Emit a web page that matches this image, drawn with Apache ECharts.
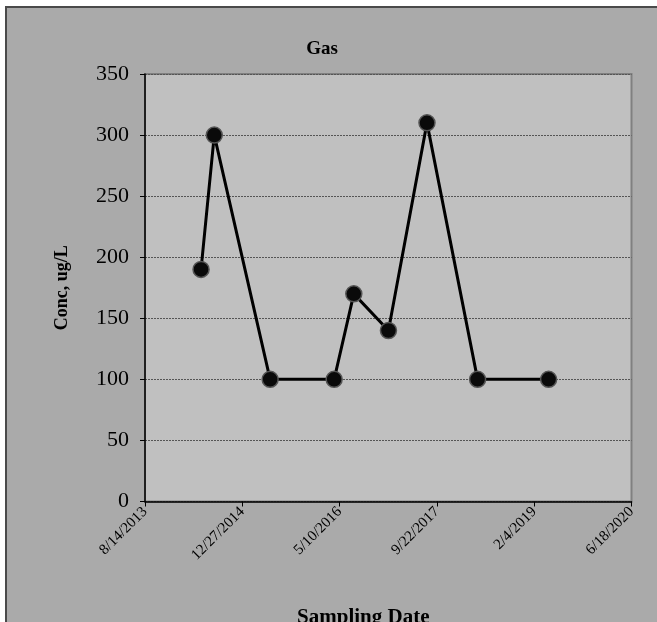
<!DOCTYPE html>
<html>
<head>
<meta charset="utf-8">
<script src="https://cdn.jsdelivr.net/npm/echarts@6/dist/echarts.min.js"></script>
<style>
html,body{margin:0;padding:0;background:#ffffff;width:657px;height:622px;overflow:hidden;}
#frame{position:absolute;left:5px;top:6px;width:700px;height:700px;background:#aaaaaa;border-left:2px solid #4a4a4a;border-top:2px solid #4a4a4a;box-sizing:border-box;}
#chart{position:absolute;left:0;top:0;width:657px;height:622px;}
</style>
</head>
<body>
<div id="frame"></div>
<div id="chart"></div>
<script>
const sampleDates = ['2014-05-29','2014-08-05','2015-05-19','2016-04-12','2016-07-22','2017-01-16','2017-08-02','2018-04-19','2019-04-19'];
const gasValues = [190, 300, 100, 100, 170, 140, 310, 100, 100];
const xAxisStart = '2013-08-14';
const xAxisEnd = '2020-06-18';
const xTickDays = 500;
const yTicks = [0, 50, 100, 150, 200, 250, 300, 350];

function toUTC(s){const p=s.split('-').map(Number);return Date.UTC(p[0],p[1]-1,p[2]);}
const DAY = 86400000;
const seriesData = sampleDates.map((d,i)=>[toUTC(d), gasValues[i]]);

const chart = echarts.init(document.getElementById('chart'), null, {renderer:'canvas'});
const serif = 'Liberation Serif, Times New Roman, serif';
chart.setOption({
  backgroundColor: 'transparent',
  animation: false,
  title: {
    text: 'Gas', left: 317, top: 35, textAlign: 'center',
    textStyle: {fontFamily: serif, fontSize: 19, fontWeight: 'bold', color: '#000'}
  },
  grid: {
    left: 145, right: 25.5, top: 74, bottom: 120.5,
    outerBoundsMode: 'none', containLabel: false,
    show: true, backgroundColor: '#c0c0c0', borderColor: '#808080', borderWidth: 2
  },
  xAxis: {
    type: 'value',
    min: toUTC(xAxisStart), max: toUTC(xAxisEnd), interval: xTickDays*DAY,
    name: 'Sampling Date', nameLocation: 'middle', nameGap: 106,
    nameTextStyle: {fontFamily: serif, fontSize: 21, fontWeight: 'bold', color: '#000', verticalAlign: 'top', padding: [0, 50, 0, 0]},
    axisLine: {show: true, onZero: false, lineStyle: {color: '#000', width: 1.5}},
    axisTick: {show: true, inside: false, length: 5, lineStyle: {color: '#000', width: 1}},
    splitLine: {show: false},
    axisLabel: {
      rotate: 45, margin: 8, fontFamily: serif, fontSize: 15, color: '#000',
      formatter: v => { const d = new Date(v); return (d.getUTCMonth()+1)+'/'+d.getUTCDate()+'/'+d.getUTCFullYear(); }
    }
  },
  yAxis: {
    type: 'value', min: yTicks[0], max: yTicks[yTicks.length-1], interval: yTicks[1]-yTicks[0],
    name: 'Conc, ug/L', nameLocation: 'middle', nameGap: 74, nameRotate: 90,
    nameTextStyle: {fontFamily: serif, fontSize: 18, fontWeight: 'bold', color: '#000'},
    axisLine: {show: true, lineStyle: {color: '#000', width: 1.5}},
    axisTick: {show: true, inside: false, length: 5, lineStyle: {color: '#000', width: 1}},
    axisLabel: {margin: 16, fontFamily: serif, fontSize: 22, color: '#000'},
    splitLine: {show: true, lineStyle: {color: '#555', width: 1, type: [2, 1]}}
  },
  series: [{
    type: 'line', data: seriesData,
    symbol: 'circle', symbolSize: 16,
    lineStyle: {color: '#000', width: 3},
    itemStyle: {color: '#0a0a0a', borderColor: '#555', borderWidth: 1.5}
  }]
});
</script>
</body>
</html>
